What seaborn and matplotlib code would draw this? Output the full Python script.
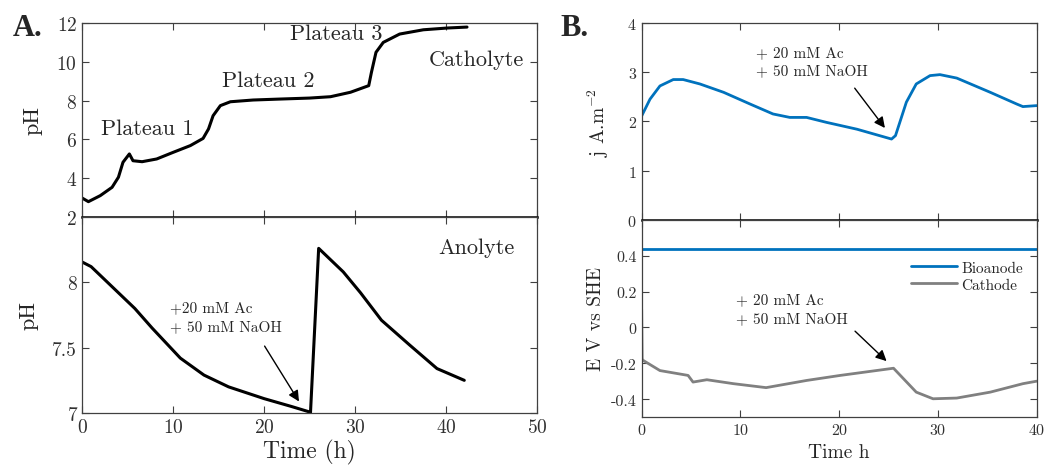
import numpy as np
import pandas as pd
import matplotlib
matplotlib.use("Agg")
import matplotlib.pyplot as plt
import seaborn as sns

# ---- Panel A: catholyte / anolyte pH ----
cath_t = [0, 0.7, 2.0, 3.3, 4.0, 4.5, 5.2, 5.6, 6.6, 8.2, 10.0, 11.9, 13.3, 13.9, 14.4,
          15.2, 16.3, 18.8, 21.8, 25.0, 27.3, 29.5, 31.5, 31.8, 32.3, 33.1, 34.9,
          37.5, 40.1, 42.3]
cath_ph = [2.98, 2.79, 3.10, 3.53, 4.05, 4.82, 5.25, 4.9, 4.85, 4.99, 5.33, 5.68, 6.05,
           6.54, 7.22, 7.74, 7.94, 8.03, 8.08, 8.13, 8.2, 8.43, 8.77, 9.46, 10.49, 11.0,
           11.43, 11.65, 11.74, 11.79]

ano_t = [0, 1.0, 3.1, 5.8, 7.7, 10.8, 13.4, 16.1, 20.0, 23.0, 24.9, 25.1,
         26.0, 28.7, 30.6, 32.9, 36.0, 39.0, 42.0]
ano_ph = [8.156, 8.12, 7.98, 7.8, 7.65, 7.42, 7.29, 7.2, 7.11, 7.05, 7.01, 7.0,
          8.26, 8.08, 7.92, 7.71, 7.52, 7.34, 7.25]

# ---- Panel B: current density and electrode potentials ----
j_t = [0, 0.84, 1.85, 3.2, 4.2, 5.9, 8.3, 11.0, 13.3, 15.0, 16.7, 18.7, 21.8, 25.3,
       25.7, 26.8, 27.8, 29.2, 30.2, 31.9, 35.3, 38.0, 38.6, 40.0]
j_val = [2.11, 2.45, 2.72, 2.85, 2.85, 2.76, 2.59, 2.35, 2.15, 2.08, 2.08, 1.98, 1.84, 1.64,
         1.71, 2.39, 2.76, 2.93, 2.95, 2.88, 2.59, 2.35, 2.30, 2.32]

bio_t = [0, 40]
bio_E = [0.437, 0.437]

cat_t = [0, 0.05, 0.17, 1.85, 4.7, 5.2, 6.6, 9.3, 12.6, 16.7, 20.1, 25.5, 27.8, 29.5,
         31.9, 35.3, 38.6, 40.0]
cat_E = [0.1, -0.18, -0.184, -0.24, -0.267, -0.304, -0.291, -0.313, -0.335, -0.295,
         -0.267, -0.227, -0.36, -0.397, -0.393, -0.36, -0.313, -0.299]

BLUE = "#0072BD"
GREY = "#808080"

sns.set_style("ticks")
plt.rcParams["font.family"] = ["cmr10", "DejaVu Serif"]
plt.rcParams["mathtext.fontset"] = "cm"
plt.rcParams["axes.unicode_minus"] = False
plt.rcParams["axes.formatter.use_mathtext"] = True

fig = plt.figure(figsize=(10.49, 4.77), dpi=100)
axA1 = fig.add_axes([0.0782, 0.5430, 0.4338, 0.4067])
axA2 = fig.add_axes([0.0782, 0.1321, 0.4338, 0.4109])
axB1 = fig.add_axes([0.6117, 0.5373, 0.3766, 0.4124])
axB2 = fig.add_axes([0.6117, 0.1231, 0.3766, 0.4143])


def style_box(ax, size):
    for s in ax.spines.values():
        s.set_color("#404040")
        s.set_linewidth(0.9)
    ax.tick_params(direction="in", top=True, right=True, labelsize=size,
                   colors="#404040", labelcolor="#303030", length=5, width=0.8)


# A top
sns.lineplot(x=cath_t, y=cath_ph, ax=axA1, color="k", lw=2.2)
axA1.set_xlim(0, 50)
axA1.set_ylim(2, 12)
axA1.set_xticks([0, 10, 20, 30, 40, 50])
axA1.set_xticklabels([])
axA1.set_yticks([2, 4, 6, 8, 10, 12])
axA1.set_ylabel("pH", fontsize=16, labelpad=10)
style_box(axA1, 14)
axA1.spines["bottom"].set_color("k")
axA1.spines["bottom"].set_linewidth(1.8)
axA1.text(7.2, 6.6, "Plateau 1", fontsize=16, ha="center", va="center")
axA1.text(20.5, 9.05, "Plateau 2", fontsize=16, ha="center", va="center")
axA1.text(27.9, 11.45, "Plateau 3", fontsize=16, ha="center", va="center")
axA1.text(43.3, 10.15, "Catholyte", fontsize=16, ha="center", va="center")

# A bottom
sns.lineplot(x=ano_t, y=ano_ph, ax=axA2, color="k", lw=2.2)
axA2.set_xlim(0, 50)
axA2.set_ylim(7, 8.5)
axA2.set_xticks([0, 10, 20, 30, 40, 50])
axA2.set_yticks([7, 7.5, 8])
axA2.set_yticklabels(["7", "7.5", "8"])
axA2.set_ylabel("pH", fontsize=16, labelpad=10)
axA2.set_xlabel("Time (h)", fontsize=17, labelpad=2)
style_box(axA2, 14)
axA2.text(43.3, 8.27, "Anolyte", fontsize=16, ha="center", va="center")
axA2.text(9.7, 7.81, "+20 mM Ac", fontsize=11, ha="left", va="center")
axA2.text(9.7, 7.66, "+ 50 mM NaOH", fontsize=11, ha="left", va="center")
axA2.annotate("", xy=(24.0, 7.07), xytext=(19.9, 7.53),
              arrowprops=dict(arrowstyle="-|>", color="k", lw=1.0, mutation_scale=16))

# B top
sns.lineplot(x=j_t, y=j_val, ax=axB1, color=BLUE, lw=2.0)
axB1.set_xlim(0, 40)
axB1.set_ylim(0, 4)
axB1.set_xticks([0, 10, 20, 30, 40])
axB1.set_xticklabels([])
axB1.set_yticks([0, 1, 2, 3, 4])
axB1.set_ylabel(r"j A.m$^{-2}$", fontsize=14, labelpad=12)
style_box(axB1, 11.5)
axB1.spines["bottom"].set_color("k")
axB1.spines["bottom"].set_linewidth(1.8)
axB1.text(11.6, 3.41, "+ 20 mM Ac", fontsize=11, ha="left", va="center")
axB1.text(11.6, 3.03, "+ 50 mM NaOH", fontsize=11, ha="left", va="center")
axB1.annotate("", xy=(24.8, 1.82), xytext=(21.4, 2.72),
              arrowprops=dict(arrowstyle="-|>", color="k", lw=1.0, mutation_scale=16))

# B bottom
sns.lineplot(x=bio_t, y=bio_E, ax=axB2, color=BLUE, lw=2.0, label="Bioanode")
sns.lineplot(x=cat_t, y=cat_E, ax=axB2, color=GREY, lw=2.0, label="Cathode")
axB2.set_xlim(0, 40)
axB2.set_ylim(-0.5, 0.6)
axB2.set_xticks([0, 10, 20, 30, 40])
axB2.set_yticks([-0.4, -0.2, 0, 0.2, 0.4])
axB2.set_yticklabels(["-0.4", "-0.2", "0", "0.2", "0.4"])
axB2.set_ylabel("E V vs SHE", fontsize=14)
axB2.set_xlabel("Time h", fontsize=14, labelpad=4)
style_box(axB2, 11.5)
axB2.legend(loc="upper right", bbox_to_anchor=(1.0, 0.86), frameon=False,
            fontsize=11, handlelength=3.0, handletextpad=0.3, labelspacing=0.2)
axB2.text(9.6, 0.154, "+ 20 mM Ac", fontsize=11, ha="left", va="center")
axB2.text(9.6, 0.052, "+ 50 mM NaOH", fontsize=11, ha="left", va="center")
axB2.annotate("", xy=(25.0, -0.198), xytext=(21.4, -0.01),
              arrowprops=dict(arrowstyle="-|>", color="k", lw=1.0, mutation_scale=16))

fig.text(0.026, 0.94, "A.", fontsize=22, fontweight="bold", family="Liberation Serif",
         ha="center", va="center")
fig.text(0.548, 0.94, "B.", fontsize=22, fontweight="bold", family="Liberation Serif",
         ha="center", va="center")

fig.savefig("out.png", dpi=100)
